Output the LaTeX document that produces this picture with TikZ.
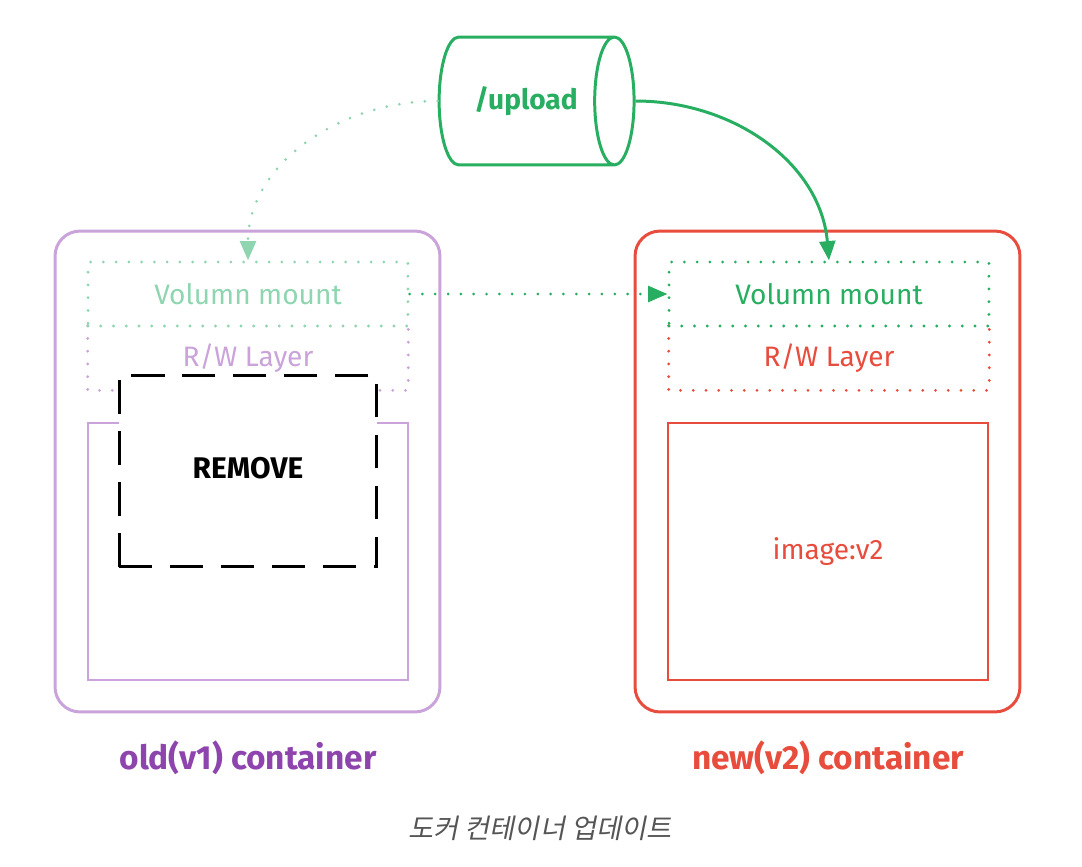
\documentclass[tikz,border=0pt]{standalone}
\usepackage{fontspec}
\setmainfont{Fira Sans}
\newfontfamily\cjk[FakeSlant=0.2]{Noto Sans CJK KR}
\usetikzlibrary{shapes.geometric,arrows.meta}

\definecolor{oldline}{HTML}{C9A3D9}
\definecolor{oldtext}{HTML}{8E44AD}
\definecolor{newred}{HTML}{E74C3C}
\definecolor{volgreen}{HTML}{27AE60}
\definecolor{volpale}{HTML}{8FD5AF}
\definecolor{captiongray}{HTML}{555555}

\tikzset{
	container/.style={shape=rectangle,draw=#1,line width=1.7pt,rounded corners=0.5cm,minimum width=7.7cm,minimum height=9.62cm,inner sep=0pt},
	dots/.style={draw=#1,line width=1.8pt,line cap=round,dash pattern=on 0pt off 7.257pt},
	layer/.style={shape=rectangle,minimum width=6.4cm,minimum height=1.28cm,inner sep=0pt,font=\fontsize{16}{19}\selectfont},
	imagebox/.style={shape=rectangle,draw=#1,line width=1.2pt,minimum width=6.4cm,minimum height=5.14cm,inner sep=0pt},
	title/.style={text=#1,font=\fontsize{19}{23}\selectfont\bfseries},
	dotlink/.style={draw=#1,line width=1.7pt,line cap=round,dash pattern=on 0pt off 7.3pt},
	tip/.style={-{Triangle[width=9pt,length=11pt,fill=#1]}},
}

\begin{document}
\begin{tikzpicture}[x=0.02cm,y=-0.02cm]

		\useasboundingbox (0,0) rectangle (1082,866);

		% volume
		\node[shape=cylinder,draw=volgreen,line width=1.7pt,minimum width=2.56cm,minimum height=3.9cm,shape aspect=1.35,inner sep=0pt,text=volgreen,font=\fontsize{16}{19}\selectfont\bfseries] (up) at (526, 101) {/upload};

		% old container
		\node[container=oldline] (old) at (247.5, 471.5) {};
		\node[layer,text=oldline] (oldrw) at (248, 358) {R/W Layer};
		\draw[dots=oldline] (oldrw.north west) -- (oldrw.south west) -- (oldrw.south east) -- (oldrw.north east);
		\node[layer,dots=volpale,text=volpale] (oldvm) at (248, 294) {Volumn mount};
		\node[imagebox=oldline] (oldimg) at (248, 551.5) {};
		\node[shape=rectangle,draw=black,fill=white,line width=1.7pt,dash pattern=on 19pt off 10pt,minimum width=5.16cm,minimum height=3.84cm,inner sep=0pt] (rm) at (248, 471) {};
		\node[font=\fontsize{17}{20}\selectfont\bfseries] (rmtext) at (248, 468) {REMOVE};
		\node[title=oldtext] (oldtitle) at (248, 758) {old(v1) container};

		% new container
		\node[container=newred] (new) at (827.5, 471.5) {};
		\node[layer,text=newred] (newrw) at (829, 358) {R/W Layer};
		\draw[dots=newred] (newrw.north west) -- (newrw.south west) -- (newrw.south east) -- (newrw.north east);
		\node[layer,dots=volgreen,text=volgreen] (newvm) at (829, 294) {Volumn mount};
		\node[imagebox=newred,text=newred,font=\fontsize{16}{19}\selectfont] (newimg) at (828, 551.5) {image:v2};
		\node[title=newred] (newtitle) at (828, 758) {new(v2) container};

		\node[text=captiongray,font=\fontsize{15.5}{18}\selectfont\cjk] (caption) at (540, 828) {도커 컨테이너 업데이트};

		% links
		\draw[dotlink=volpale,tip=volpale] (up.west) to[out=180,in=90] (oldvm.north);
		\draw[draw=volgreen,line width=1.7pt,tip=volgreen] (up.east) to[out=0,in=95] (newvm.north);
		\draw[dotlink=volgreen,tip=volgreen] (oldvm.east) -- (newvm.west);

\end{tikzpicture}
\end{document}
